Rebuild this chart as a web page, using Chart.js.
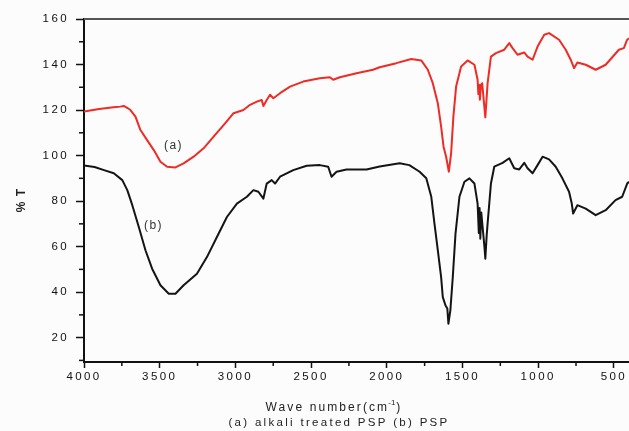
<!DOCTYPE html>
<html><head><meta charset="utf-8">
<script src="https://cdn.jsdelivr.net/npm/chart.js@4.4.1/dist/chart.umd.min.js"></script>
<style>html,body{margin:0;padding:0;background:#fcfcfd;}canvas{display:block}</style>
</head><body>
<canvas id="c" width="629" height="431"></canvas>
<script>
// (a) alkali treated PSP — red
const wavenumbersA = [4000,3900,3805,3760,3737,3715,3693,3660,3627,3583,3539,3495,3451,3396,3342,3276,3210,3144,3078,3012,2947,2903,2858,2826,2815,2793,2771,2749,2705,2639,2552,2442,2376,2354,2310,2200,2091,2047,1937,1838,1772,1729,1696,1663,1641,1625,1608,1590,1575,1560,1542,1509,1466,1421,1400,1395,1390,1385,1378,1370,1349,1334,1312,1279,1224,1191,1169,1136,1092,1070,1037,1004,960,928,862,818,785,763,741,686,620,554,467,434,412,400];
const transmittanceA = [119.4,120.5,121.2,121.5,121.8,121.0,120.0,117.1,111.2,106.8,102.4,97.3,95.1,94.8,96.6,99.5,103.2,108.3,113.4,118.6,120.0,122.3,123.7,124.4,121.8,124.4,126.7,125.2,127.4,130.3,132.5,134.0,134.4,133.3,134.4,136.2,137.7,138.8,140.6,142.4,141.8,137.7,131.8,123.0,112.7,103.9,99.5,92.9,101.0,117.1,130.3,139.1,141.8,139.9,133.3,127.0,131.0,124.5,131.0,131.8,116.8,131.8,143.5,145.0,146.5,149.4,147.2,144.3,145.3,143.5,142.1,147.9,153.1,153.8,150.9,146.5,142.1,138.4,140.9,139.9,137.7,139.9,146.5,147.2,150.9,151.5];

// (b) PSP — black
const wavenumbersB = [4000,3930,3868,3803,3747,3714,3681,3638,3594,3550,3495,3440,3396,3342,3254,3188,3122,3056,2990,2924,2881,2848,2815,2793,2760,2738,2705,2618,2529,2442,2387,2365,2332,2266,2134,2047,1915,1851,1783,1739,1706,1685,1663,1641,1630,1612,1600,1593,1580,1564,1546,1520,1487,1454,1421,1400,1392,1387,1382,1376,1367,1355,1349,1340,1334,1312,1290,1235,1191,1158,1125,1092,1070,1037,1004,971,928,884,840,796,778,769,741,686,620,554,489,445,412,400];
const transmittanceB = [95.6,95.0,93.6,92.2,89.2,84.8,78.2,68.6,58.4,50.3,43.0,39.3,39.3,43.0,48.1,55.4,64.2,73.0,78.9,81.9,84.8,84.1,81.1,87.7,89.2,87.7,90.7,93.6,95.5,95.8,95.1,90.7,92.9,93.9,93.9,95.2,96.6,95.8,92.9,90.0,81.9,70.1,58.4,46.6,37.8,34.1,32.8,26.1,32.0,46.6,65.7,81.9,88.5,90.0,87.7,78.9,66.0,77.0,63.5,75.0,68.6,60.0,54.7,65.0,70.1,87.7,95.1,96.8,98.8,94.4,93.9,96.8,94.4,92.2,95.8,99.5,98.3,95.1,90.0,84.1,78.9,74.5,78.2,76.7,73.8,76.0,80.4,81.9,87.7,88.5];

const xTicks = [4000,3500,3000,2500,2000,1500,1000,500];
const xMinorTicks = [3750,3250,2750,2250,1750,1250,750];
const yTicks = [20,40,60,80,100,120,140,160];
const yMinorTicks = [10,30,50,70,90,110,130,150];
const curveLabels = ['(a)','(b)'];
const curveLabelX = [3409,3541];
const curveLabelY = [104.3,69.4];
const yTitle = '% T';
const xTitleMain = 'Wave number(cm';
const xTitleSup = '-1';
const caption = '(a) alkali treated PSP (b) PSP';

const FONT = '"Liberation Sans", Arial, sans-serif';

const decor = {
  id: 'decor',
  beforeDraw(chart){ chart.ctx.letterSpacing = '2.4px'; },
  afterDraw(chart){
    const {ctx, chartArea:a, scales:{x, y}} = chart;
    ctx.save();
    ctx.strokeStyle = '#111'; ctx.lineWidth = 1.5;
    xMinorTicks.forEach(v => { const px = x.getPixelForValue(v); ctx.beginPath(); ctx.moveTo(px, a.bottom); ctx.lineTo(px, a.bottom + 4); ctx.stroke(); });
    yMinorTicks.forEach(v => { const py = y.getPixelForValue(v); ctx.beginPath(); ctx.moveTo(a.left, py); ctx.lineTo(a.left - 5, py); ctx.stroke(); });
    ctx.strokeStyle = '#555'; ctx.lineWidth = 2;
    ctx.beginPath(); ctx.moveTo(a.left, a.top); ctx.lineTo(a.right, a.top); ctx.stroke();

    ctx.fillStyle = '#333';
    ctx.font = '12px ' + FONT;
    ctx.letterSpacing = '1.5px';
    ctx.textAlign = 'center'; ctx.textBaseline = 'middle';
    curveLabels.forEach((t, i) => ctx.fillText(t, x.getPixelForValue(curveLabelX[i]), y.getPixelForValue(curveLabelY[i])));

    // y title
    ctx.save();
    ctx.fillStyle = '#222';
    ctx.font = 'bold 12px ' + FONT;
    ctx.letterSpacing = '1px';
    ctx.translate(22, 200); ctx.rotate(-Math.PI/2);
    ctx.fillText(yTitle, 0, 0);
    ctx.restore();

    // x title with superscript
    ctx.fillStyle = '#222';
    ctx.textAlign = 'left'; ctx.textBaseline = 'alphabetic';
    ctx.font = '12px ' + FONT; ctx.letterSpacing = '2.1px';
    const w1 = ctx.measureText(xTitleMain).width;
    ctx.font = '8px ' + FONT; ctx.letterSpacing = '0px';
    const w2 = ctx.measureText(xTitleSup).width;
    ctx.font = '12px ' + FONT; ctx.letterSpacing = '2.1px';
    const w3 = ctx.measureText(')').width;
    let sx = 334 - (w1 + w2 + w3) / 2;
    ctx.fillText(xTitleMain, sx, 411);
    ctx.font = '8px ' + FONT; ctx.letterSpacing = '0px';
    ctx.fillText(xTitleSup, sx + w1 - 1, 405);
    ctx.font = '12px ' + FONT; ctx.letterSpacing = '2.1px';
    ctx.fillText(')', sx + w1 + w2, 411);

    ctx.font = '11.5px ' + FONT; ctx.letterSpacing = '2.3px';
    ctx.textAlign = 'center';
    ctx.fillText(caption, 339, 426);
    ctx.restore();
  }
};

const toPts = (xs, ys) => xs.map((v, i) => ({x: v, y: ys[i]}));

new Chart(document.getElementById('c'), {
  type: 'line',
  data: {
    datasets: [
      {label: '(a) alkali treated PSP', data: toPts(wavenumbersA, transmittanceA), borderColor: '#ee2b25', borderWidth: 2, pointRadius: 0, tension: 0, borderJoinStyle: 'round'},
      {label: '(b) PSP', data: toPts(wavenumbersB, transmittanceB), borderColor: '#141414', borderWidth: 2, pointRadius: 0, tension: 0, borderJoinStyle: 'round'}
    ]
  },
  options: {
    responsive: false, animation: false, devicePixelRatio: 1,
    layout: {padding: {top: 19, right: 0, left: 0, bottom: 0}},
    plugins: {legend: {display: false}, tooltip: {enabled: false}, title: {display: false}},
    scales: {
      x: {
        type: 'linear', reverse: true, min: 400, max: 4000,
        afterBuildTicks: s => { s.ticks = xTicks.map(v => ({value: v})); },
        afterFit: s => { s.height = 69; s.paddingLeft = 0; s.paddingRight = 0; },
        ticks: {color: '#111', font: {family: FONT, size: 11.5}, padding: 2, maxRotation: 0, autoSkip: false, callback: v => String(v)},
        grid: {drawOnChartArea: false, drawTicks: true, tickLength: 6, tickColor: '#111', tickWidth: 1.5},
        border: {color: '#111', width: 2}
      },
      y: {
        type: 'linear', min: 9.3, max: 160,
        afterBuildTicks: s => { s.ticks = yTicks.map(v => ({value: v})); },
        afterFit: s => { s.width = 84; s.paddingTop = 0; s.paddingBottom = 0; },
        ticks: {color: '#111', font: {family: FONT, size: 11.5}, padding: 7, autoSkip: false, callback: v => String(v)},
        grid: {drawOnChartArea: false, drawTicks: true, tickLength: 8, tickColor: '#111', tickWidth: 1.5},
        border: {color: '#111', width: 2}
      }
    }
  },
  plugins: [decor]
});
</script>
</body></html>
